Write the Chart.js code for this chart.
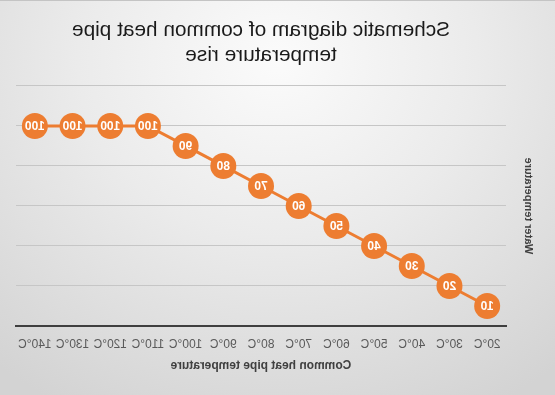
<!DOCTYPE html>
<html>
<head>
<meta charset="utf-8">
<script src="https://cdn.jsdelivr.net/npm/chart.js@4"></script>
<style>
  html, body { margin:0; padding:0; }
  #wrap {
    width:555px; height:395px; position:relative;
    background: radial-gradient(ellipse 80% 100% at 50% 15%, #fbfbfb 0%, #ebebeb 45%, #d3d3d3 100%);
    transform: scaleX(-1);
    box-sizing: border-box;
    border-top: 1px solid #c4c4c4;
  }
  canvas { display:block; }
</style>
</head>
<body>
<div id="wrap"><canvas id="c" width="555" height="394"></canvas></div>
<script>
const categories = ["20°C","30°C","40°C","50°C","60°C","70°C","80°C","90°C","100°C","110°C","120°C","130°C","140°C"];
const waterTemp = [10,20,30,40,50,60,70,80,90,100,100,100,100];
const titleLines = ["Schematic diagram of common heat pipe","temperature rise"];
const xTitle = "Common heat pipe temperature";
const yTitle = "Water temperature";

const labelPlugin = {
  id: 'pointLabels',
  afterDatasetsDraw(chart) {
    const ctx = chart.ctx;
    chart.data.datasets.forEach((ds, i) => {
      const meta = chart.getDatasetMeta(i);
      meta.data.forEach((pt, j) => {
        ctx.save();
        ctx.fillStyle = '#ffffff';
        ctx.font = 'bold 12px "Liberation Sans", Arial, sans-serif';
        ctx.textAlign = 'center';
        ctx.textBaseline = 'middle';
        ctx.fillText(String(ds.data[j]), pt.x, pt.y + 0.5);
        ctx.restore();
      });
    });
  }
};

new Chart(document.getElementById('c'), {
  type: 'line',
  data: {
    labels: categories,
    datasets: [{
      data: waterTemp,
      borderColor: '#ED7D31',
      backgroundColor: '#ED7D31',
      borderWidth: 3,
      pointRadius: 13,
      pointHoverRadius: 13,
      pointBackgroundColor: '#ED7D31',
      pointBorderColor: '#ED7D31',
      pointBorderWidth: 0,
      tension: 0
    }]
  },
  options: {
    responsive: false,
    animation: false,
    events: [],
    layout: { padding: { left: 20, right: 16, top: 0, bottom: 22 } },
    plugins: {
      legend: { display: false },
      tooltip: { enabled: false },
      title: {
        display: true,
        fullSize: false,
        text: titleLines,
        color: '#1a1a1a',
        font: { size: 20.8, family: '"Liberation Sans", Arial, sans-serif', weight: 'normal', lineHeight: 1.2 },
        padding: { top: 17, bottom: 18 }
      }
    },
    scales: {
      x: {
        offset: true,
        grid: { display: false, drawTicks: false },
        border: { display: true, color: '#3f3f3f', width: 2 },
        ticks: {
          color: '#595959',
          font: { size: 12, family: '"Liberation Sans", Arial, sans-serif' },
          padding: 11,
          autoSkip: false,
          maxRotation: 0,
          minRotation: 0
        },
        title: {
          display: true,
          text: xTitle,
          color: '#404040',
          font: { size: 12, weight: 'bold', family: '"Liberation Sans", Arial, sans-serif' },
          padding: { top: 6, bottom: 0 }
        },
        afterFit(scale) { scale.height = 394 - 325 - 22; }
      },
      y: {
        min: 0,
        max: 120,
        ticks: { stepSize: 20, display: false },
        grid: {
          drawTicks: false,
          color: (c) => c.tick && c.tick.value === 0 ? 'rgba(0,0,0,0)' : '#c6c6c6',
          lineWidth: 1
        },
        border: { display: false },
        title: {
          display: true,
          text: yTitle,
          color: '#404040',
          font: { size: 11, weight: 'bold', family: '"Liberation Sans", Arial, sans-serif' },
          padding: 0
        },
        afterFit(scale) { scale.width = 29; }
      }
    }
  },
  plugins: [labelPlugin]
});
</script>
</body>
</html>
